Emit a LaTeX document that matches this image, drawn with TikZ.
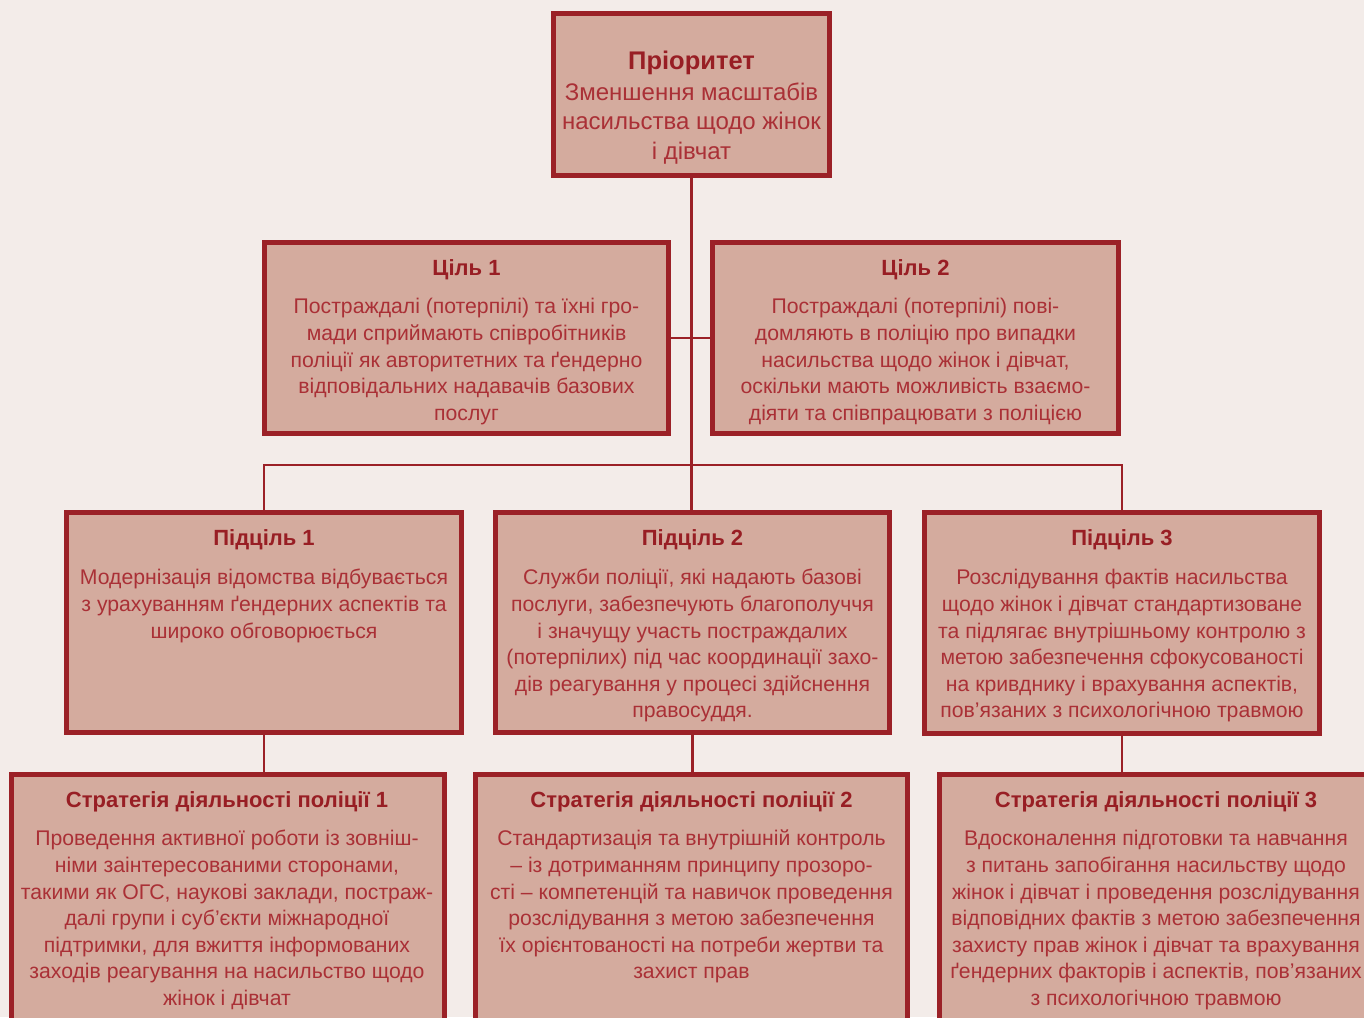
\documentclass[tikz,border=0pt]{standalone}
\usepackage{fontspec}
\setmainfont{Liberation Sans}
\definecolor{bg}{RGB}{243,236,233}
\definecolor{boxfill}{RGB}{212,171,158}
\definecolor{boxline}{RGB}{155,33,39}
\definecolor{txt}{RGB}{170,48,54}
\definecolor{ttl}{RGB}{152,30,36}
\begin{document}
\begin{tikzpicture}[x=1pt,y=-1pt,
  box/.style={draw=boxline, fill=boxfill, line width=5pt, inner sep=0pt, outer sep=0pt, anchor=north west},
  link/.style={draw=boxline, line width=2.5pt},
  ttlnode/.style={text=ttl, font=\fontsize{22}{26}\selectfont\bfseries, inner sep=0pt, anchor=base},
  bodynode/.style={text=txt, font=\fontsize{21.2}{26.6}\selectfont, inner sep=0pt, anchor=north, align=center},
  pbody/.style={text=txt, font=\fontsize{24}{29.5}\selectfont, inner sep=0pt, anchor=north, align=center}
]
\useasboundingbox (0,0) rectangle (1364,1017);
\clip (0,0) rectangle (1364,1017);
\fill[bg] (0,0) rectangle (1364,1017);

% boxes
\node[box, minimum width=276pt, minimum height=162pt] (p) at (553.5,13.5) {};
\node[box, minimum width=404pt, minimum height=191pt] (g1) at (264.5,242.5) {};
\node[box, minimum width=406pt, minimum height=191pt] (g2) at (712.5,242.5) {};
\node[box, minimum width=395pt, minimum height=220pt] (s1) at (66.5,512.5) {};
\node[box, minimum width=394pt, minimum height=220pt] (s2) at (495.5,512.5) {};
\node[box, minimum width=395pt, minimum height=221pt] (s3) at (924.5,512.5) {};
\node[box, minimum width=433pt, minimum height=300pt] (t1) at (11.5,774.5) {};
\node[box, minimum width=432pt, minimum height=300pt] (t2) at (475.5,774.5) {};
\node[box, minimum width=433pt, minimum height=300pt] (t3) at (939.5,774.5) {};

% connectors
\coordinate (hb) at (691.5,465);
\draw[link] (p.south) -- (p.south |- s2.north);
\draw[link] (g1.east) -- (g2.west);
\draw[link] (s1.north) |- (hb) -| (s3.north);
\draw[link] (s1.south) -- (s1.south |- t1.north);
\draw[link] (s2.south) -- (s2.south |- t2.north);
\draw[link] (s3.south) -- (s3.south |- t3.north);

% texts
\node[ttlnode, font=\fontsize{25.5}{29}\selectfont\bfseries] (pt) at (691.5,69) {Пріоритет};
\node[pbody] (pb) at (691.5,79.5) {\strut Зменшення масштабів\\насильства щодо жінок\\і дівчат};

\node[ttlnode] (g1t) at (466.5,275) {Ціль 1};
\node[bodynode] (g1b) at (466.5,295) {\strut Постраждалі (потерпілі) та їхні гро-\\мади сприймають співробітників\\поліції як авторитетних та ґендерно\\відповідальних надавачів базових\\послуг};

\node[ttlnode] (g2t) at (915.5,275) {Ціль 2};
\node[bodynode] (g2b) at (915.5,295) {\strut Постраждалі (потерпілі) пові-\\домляють в поліцію про випадки\\насильства щодо жінок і дівчат,\\оскільки мають можливість взаємо-\\діяти та співпрацювати з поліцією};

\node[ttlnode] (s1t) at (264,545) {Підціль 1};
\node[bodynode] (s1b) at (264,566) {\strut Модернізація відомства відбувається\\з урахуванням ґендерних аспектів та\\широко обговорюється};

\node[ttlnode] (s2t) at (692.5,545) {Підціль 2};
\node[bodynode] (s2b) at (692.5,566) {\strut Служби поліції, які надають базові\\послуги, забезпечують благополуччя\\і значущу участь постраждалих\\(потерпілих) під час координації захо-\\дів реагування у процесі здійснення\\правосуддя.};

\node[ttlnode] (s3t) at (1122,545) {Підціль 3};
\node[bodynode] (s3b) at (1122,566) {\strut Розслідування фактів насильства\\щодо жінок і дівчат стандартизоване\\та підлягає внутрішньому контролю з\\метою забезпечення сфокусованості\\на кривднику і врахування аспектів,\\пов’язаних з психологічною травмою};

\node[ttlnode] (t1t) at (227,807) {Стратегія діяльності поліції 1};
\node[bodynode] (t1b) at (227,827) {\strut Проведення активної роботи із зовніш-\\німи заінтересованими сторонами,\\такими як ОГС, наукові заклади, постраж-\\далі групи і суб’єкти міжнародної\\підтримки, для вжиття інформованих\\заходів реагування на насильство щодо\\жінок і дівчат};

\node[ttlnode] (t2t) at (691.5,807) {Стратегія діяльності поліції 2};
\node[bodynode] (t2b) at (691.5,827) {\strut Стандартизація та внутрішній контроль\\– із дотриманням принципу прозоро-\\сті – компетенцій та навичок проведення\\розслідування з метою забезпечення\\їх орієнтованості на потреби жертви та\\захист прав};

\node[ttlnode] (t3t) at (1156,807) {Стратегія діяльності поліції 3};
\node[bodynode] (t3b) at (1156,827) {\strut Вдосконалення підготовки та навчання\\з питань запобігання насильству щодо\\жінок і дівчат і проведення розслідування\\відповідних фактів з метою забезпечення\\захисту прав жінок і дівчат та врахування\\ґендерних факторів і аспектів, пов’язаних\\з психологічною травмою};
\end{tikzpicture}
\end{document}
